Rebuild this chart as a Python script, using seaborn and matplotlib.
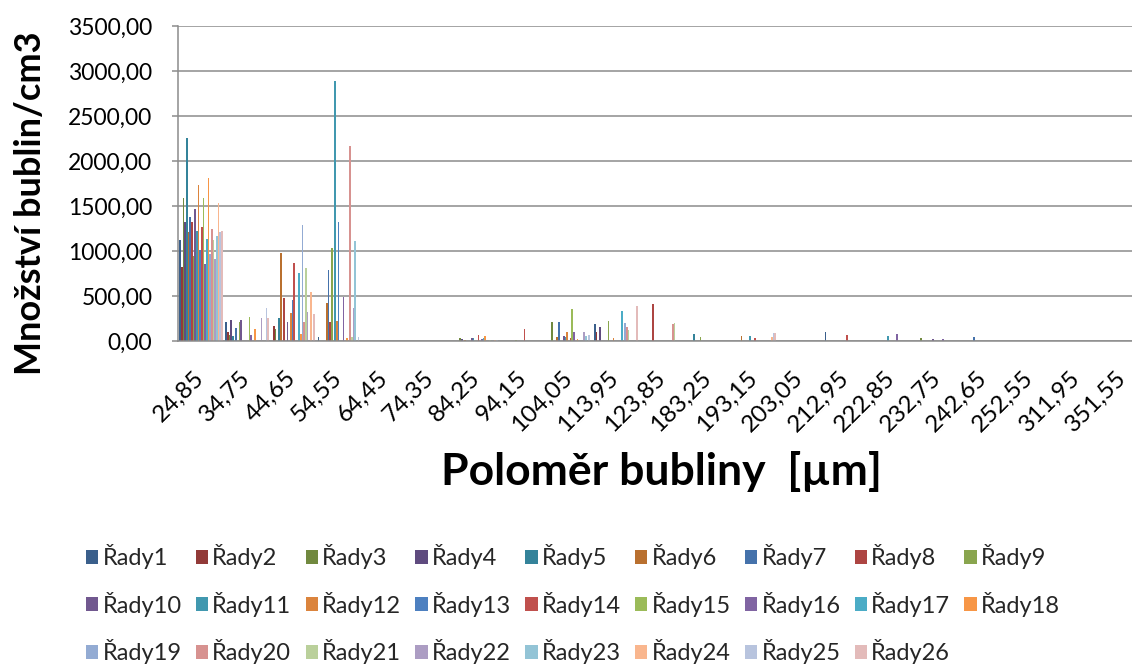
import numpy as np
import pandas as pd
import seaborn as sns
import matplotlib
matplotlib.use("Agg")
import matplotlib.pyplot as plt
from matplotlib.ticker import FixedLocator, FuncFormatter
from matplotlib.transforms import ScaledTranslation

# Bubble radius classes (category axis)
categories = ["24,85", "34,75", "44,65", "54,55", "64,45", "74,35", "84,25",
              "94,15", "104,05", "113,95", "123,85", "183,25", "193,15",
              "203,05", "212,95", "222,85", "232,75", "242,65", "252,55",
              "311,95", "351,55"]

# Bubble count per cm3 for each measurement series (one value per class)
rady1 = [1120, 207, 0, 48, 0, 0, 0, 0, 0, 189, 0, 0, 0, 0, 96, 0, 0, 0, 0, 0, 0]
rady2 = [826, 100, 170, 0, 0, 0, 0, 0, 0, 100, 0, 0, 0, 0, 0, 0, 0, 0, 0, 0, 0]
rady3 = [1592, 67, 133, 0, 0, 0, 37, 0, 210, 0, 0, 0, 0, 0, 0, 0, 30, 0, 0, 0, 0]
rady4 = [1326, 233, 0, 0, 0, 0, 20, 0, 0, 152, 0, 0, 0, 0, 0, 0, 0, 0, 0, 0, 0]
rady5 = [2252, 59, 252, 0, 0, 0, 0, 0, 0, 0, 0, 74, 0, 0, 0, 0, 0, 0, 0, 0, 0]
rady6 = [1207, 0, 974, 418, 0, 0, 15, 0, 39, 0, 0, 0, 52, 0, 0, 0, 0, 0, 0, 0, 0]
rady7 = [1374, 141, 0, 789, 0, 0, 0, 0, 207, 0, 0, 0, 0, 0, 0, 0, 0, 44, 0, 0, 0]
rady8 = [1318, 0, 474, 208, 0, 0, 0, 0, 0, 0, 411, 0, 0, 0, 0, 0, 0, 0, 0, 0, 0]
rady9 = [944, 209, 0, 1030, 0, 0, 0, 12, 0, 222, 0, 48, 0, 0, 0, 0, 0, 0, 0, 0, 0]
rady10 = [1463, 230, 207, 0, 0, 0, 30, 0, 60, 0, 0, 0, 0, 0, 0, 0, 22, 0, 0, 0, 0]
rady11 = [1226, 0, 0, 2890, 0, 0, 30, 0, 50, 0, 0, 0, 58, 0, 0, 59, 0, 0, 0, 0, 0]
rady12 = [1733, 0, 310, 226, 0, 0, 0, 0, 100, 30, 0, 0, 0, 0, 0, 0, 0, 0, 0, 0, 0]
rady13 = [1011, 0, 460, 1319, 0, 0, 0, 0, 0, 0, 0, 0, 0, 0, 0, 0, 0, 0, 0, 0, 0]
rady14 = [1270, 0, 870, 0, 0, 0, 67, 133, 35, 0, 0, 0, 30, 0, 67, 0, 0, 0, 0, 0, 0]
rady15 = [1592, 272, 0, 0, 0, 0, 0, 0, 355, 0, 0, 0, 0, 0, 0, 0, 0, 0, 0, 0, 0]
rady16 = [855, 67, 0, 492, 0, 0, 20, 0, 95, 0, 0, 0, 0, 0, 0, 78, 22, 0, 0, 0, 0]
rady17 = [1133, 0, 752, 0, 0, 0, 30, 0, 0, 337, 0, 0, 0, 0, 0, 0, 0, 0, 0, 0, 0]
rady18 = [1807, 133, 78, 30, 0, 0, 52, 0, 25, 0, 0, 0, 0, 0, 0, 0, 0, 0, 0, 0, 0]
rady19 = [963, 0, 1289, 0, 0, 0, 0, 0, 0, 204, 0, 0, 0, 0, 0, 0, 0, 0, 0, 0, 0]
rady20 = [1248, 0, 207, 2167, 0, 0, 0, 0, 0, 159, 185, 0, 0, 0, 0, 0, 0, 0, 0, 0, 0]
rady21 = [1122, 0, 807, 48, 0, 0, 10, 0, 0, 122, 196, 0, 0, 0, 0, 0, 0, 0, 0, 0, 0]
rady22 = [911, 252, 319, 363, 0, 0, 0, 0, 95, 0, 0, 0, 0, 0, 0, 0, 0, 0, 0, 0, 0]
rady23 = [1170, 0, 0, 1115, 0, 0, 0, 0, 56, 0, 0, 0, 0, 0, 0, 0, 0, 0, 0, 0, 0]
rady24 = [1533, 0, 548, 0, 0, 0, 10, 0, 0, 0, 0, 0, 44, 0, 0, 0, 0, 0, 0, 0, 0]
rady25 = [1215, 363, 0, 48, 0, 0, 10, 0, 66, 0, 0, 0, 90, 0, 0, 0, 0, 0, 0, 0, 0]
rady26 = [1222, 259, 303, 0, 0, 0, 0, 0, 0, 389, 0, 0, 90, 0, 0, 0, 0, 0, 0, 0, 0]

series_values = [rady1, rady2, rady3, rady4, rady5, rady6, rady7, rady8, rady9,
                 rady10, rady11, rady12, rady13, rady14, rady15, rady16, rady17,
                 rady18, rady19, rady20, rady21, rady22, rady23, rady24, rady25,
                 rady26]
series_names = [f"Řady{i}" for i in range(1, 27)]

series_colors = ["#3A5F8B", "#923A38", "#71893F", "#5F4B7F", "#34839A", "#B9702F",
                 "#4572AB", "#AD4542", "#89A54E", "#71588F", "#4198AF", "#DB843D",
                 "#4D80C0", "#C0504D", "#9BBB59", "#8064A2", "#4BACC6", "#F79646",
                 "#93ABD3", "#D79290", "#BAD09B", "#AC9DC3", "#93C4D6", "#F9B68E",
                 "#B8C4DE", "#E3BBBA"]

y_ticks = [0, 500, 1000, 1500, 2000, 2500, 3000, 3500]

# Long-form table for seaborn
df = pd.DataFrame({
    "radius": np.tile(categories, len(series_names)),
    "count": np.concatenate(series_values),
    "series": np.repeat(series_names, len(categories)),
})

sns.set_theme(style="white")
plt.rcParams["font.family"] = ["Lato", "DejaVu Sans"]

W, H = 1132, 666
fig = plt.figure(figsize=(W / 100, H / 100), dpi=100)
# plot area runs slightly past the right edge of the canvas
ax = fig.add_axes([178 / W, 325 / H, 968 / W, 315 / H])

grid_col = "#8C8C8C"
for yv in y_ticks:
    ax.axhline(yv, color=grid_col, lw=1.1, zorder=0)

sns.barplot(data=df, x="radius", y="count", hue="series",
            order=categories, hue_order=series_names, palette=series_colors,
            width=26 / 27.5, gap=0, saturation=1, errorbar=None,
            linewidth=0, ax=ax, zorder=2)

ax.set_xlim(-0.5, len(categories) - 0.5)
ax.set_ylim(0, 3500)
ax.yaxis.set_major_locator(FixedLocator(y_ticks))
ax.yaxis.set_major_formatter(FuncFormatter(lambda v, p: f"{v:.2f}".replace(".", ",")))

for s in ["top", "right"]:
    ax.spines[s].set_visible(False)
for s in ["left", "bottom"]:
    ax.spines[s].set_color(grid_col)
    ax.spines[s].set_linewidth(1.1)
    ax.spines[s].set_zorder(3)

ax.tick_params(axis="y", which="major", left=True, length=4.5, width=1.1,
               color=grid_col, labelsize=16.5, labelcolor="black", pad=14)
ax.tick_params(axis="x", which="major", bottom=False, length=0,
               labelsize=17.5, labelcolor="black", pad=19)
ax.set_xticks(range(len(categories)))
ax.set_xticklabels(categories, rotation=45, ha="right", va="top",
                   rotation_mode="anchor")
shift = ScaledTranslation(-0.08, 0, fig.dpi_scale_trans)
for tick in ax.xaxis.get_major_ticks():
    tick.label1.set_transform(tick.label1.get_transform() + shift)

ax.set_xlabel("Poloměr bubliny  [µm]", fontsize=32, fontweight="bold",
              color="black")
ax.xaxis.label.set_va("center")
ax.xaxis.set_label_coords((661 - 178) / 968, (341 - 472) / 315)
ax.set_ylabel("Množství bublin/cm3", fontsize=26, fontweight="bold",
              color="black")
ax.yaxis.label.set_va("center")
ax.yaxis.set_label_coords((31 - 178) / 968, (341 - 203) / 315)

handles, labels = ax.get_legend_handles_labels()
ax.get_legend().remove()
# legend fills column by column; arrange entries so rows read 1..9, 10..18, 19..26
ncol = 9
order = [r * ncol + c for c in range(ncol) for r in range(3) if r * ncol + c < len(labels)]
fig.legend([handles[i] for i in order], [labels[i] for i in order],
           ncol=ncol, loc="upper left",
           bbox_to_anchor=(86 / W, 1 - 544 / H), frameon=False,
           fontsize=17, handlelength=0.52, handleheight=0.52,
           handletextpad=0.18, columnspacing=0.6, labelspacing=0.96,
           borderaxespad=0, borderpad=0)

fig.savefig("out.png", dpi=100)
